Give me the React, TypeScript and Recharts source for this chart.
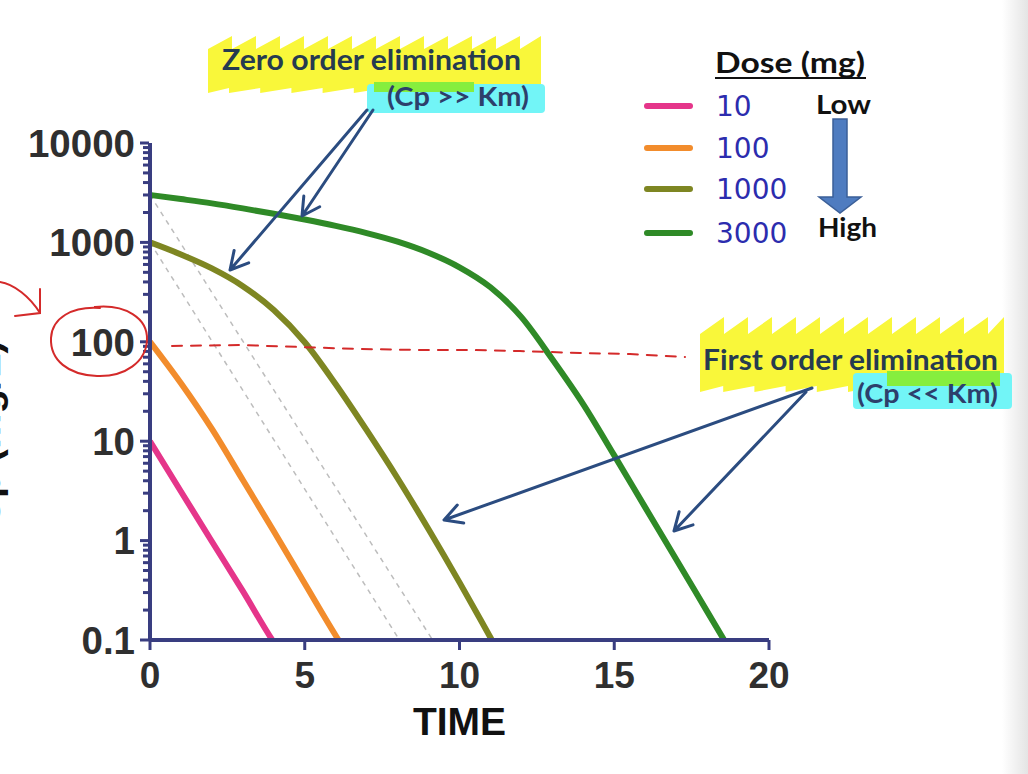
import React from 'react';
import { LineChart, Line, XAxis, YAxis, Legend, Label } from 'recharts';

// Dose (mg) series: time vs plasma concentration
const doses = ['10', '100', '1000', '3000'];
const doseColors = ['#e5358a', '#f28c2c', '#7e8622', '#2f8a27'];

const time10 = [0, 1, 2, 3, 4, 4.3];
const conc10 = [10, 3.12, 0.98, 0.31, 0.095, 0.07];

const time100 = [0, 1, 2, 3, 4, 5, 6, 6.5];
const conc100 = [100, 38.3, 13.3, 4.07, 1.24, 0.37, 0.111, 0.063];

const time1000 = [0, 1, 2, 3, 4, 5, 6, 7, 8, 9, 10, 11, 11.5];
const conc1000 = [1000, 755, 547, 363, 209, 99, 37.4, 12.9, 4.24, 1.3, 0.38, 0.106, 0.056];

const time3000 = [0, 1, 2, 3, 4, 5, 6, 7, 8, 9, 10, 11, 12, 13, 14, 15, 16, 17, 18, 19];
const conc3000 = [3000, 2729, 2470, 2199, 1940, 1698, 1467, 1241, 1017, 787, 562, 354, 177, 66.8, 23.5, 7.2, 2.16, 0.65, 0.194, 0.058];

// dashed first-order reference lines
const guideTimeLow = [0, 8.06];
const guideConcLow = [1000, 0.1];
const guideTimeHigh = [0, 9.13];
const guideConcHigh = [3000, 0.1];

const xTicks = [0, 5, 10, 15, 20];
const yDecades = [0.1, 1, 10, 100, 1000, 10000];

const AXIS = '#393d80';
const TICK_TEXT = '#2f2f2f';

const toPoints = (xs: number[], ys: number[]) => xs.map((x, i) => ({ x, y: ys[i] }));

const doseSeries = [
  toPoints(time10, conc10),
  toPoints(time100, conc100),
  toPoints(time1000, conc1000),
  toPoints(time3000, conc3000),
];

const yTicks: number[] = [];
yDecades.forEach((d, i) => {
  yTicks.push(d);
  if (i < yDecades.length - 1) {
    for (let m = 2; m <= 9; m++) yTicks.push(d * m);
  }
});

const isDecade = (v: number) => Math.abs(Math.log10(v) - Math.round(Math.log10(v))) < 1e-6;

function YTick(props: any) {
  const { x, y, payload } = props;
  const major = isDecade(payload.value);
  return (
    <g>
      <line x1={x - 1} x2={x - (major ? 10 : 7)} y1={y} y2={y} stroke={AXIS} strokeWidth={3} />
      {major && (
        <text
          x={x - 15}
          y={y}
          dy="0.36em"
          textAnchor="end"
          fontFamily="'Liberation Sans', Arial, sans-serif"
          fontWeight="bold"
          fontSize={38.5}
          fill={TICK_TEXT}
        >
          {payload.value}
        </text>
      )}
    </g>
  );
}

function XTick(props: any) {
  const { x, y, payload } = props;
  return (
    <g>
      <line x1={x} x2={x} y1={y} y2={y + 10} stroke={AXIS} strokeWidth={3} />
      <text
        x={x}
        y={y + 48}
        textAnchor="middle"
        fontFamily="'Liberation Sans', Arial, sans-serif"
        fontWeight="bold"
        fontSize={37}
        fill={TICK_TEXT}
      >
        {payload.value}
      </text>
    </g>
  );
}

function YTitle(props: any) {
  const vb = props.viewBox || { x: 0, y: 0, height: 0 };
  const cx = vb.x;
  const cy = vb.y + vb.height / 2 + 42;
  return (
    <text
      x={cx}
      y={cy}
      transform={`rotate(-90, ${cx}, ${cy})`}
      textAnchor="middle"
      fontFamily="'Liberation Sans', Arial, sans-serif"
      fontWeight="bold"
      fontSize={40}
      fill="#111"
    >
      Cp (mg/L)
    </text>
  );
}

function DoseLegend(props: any) {
  const items = (props.payload || []).filter((p: any) => p.type !== 'none');
  const calibri = "Lato, 'Open Sans', sans-serif";
  return (
    <svg width={260} height={210} style={{ display: 'block' }}>
      <text x={85} y={33} fontFamily={calibri} fontWeight="bold" fontSize={28} fill="#111" textLength={150} lengthAdjust="spacingAndGlyphs">
        Dose (mg)
      </text>
      <line x1={85} x2={236} y1={38} y2={38} stroke="#111" strokeWidth={2} />
      {items.map((it: any, i: number) => {
        const rowY = [66, 108, 149, 193][i] ?? 66 + i * 42;
        return (
          <g key={it.value}>
            <line x1={17} x2={60} y1={rowY} y2={rowY} stroke={it.color} strokeWidth={6} strokeLinecap="round" />
            <text x={86} y={rowY + 10} fontFamily="'DejaVu Sans', sans-serif" fontSize={28} fill="#2c2cae">
              {it.value}
            </text>
          </g>
        );
      })}
      <text x={186} y={74} fontFamily={calibri} fontWeight="bold" fontSize={26} fill="#111" textLength={55} lengthAdjust="spacingAndGlyphs">
        Low
      </text>
      <text x={188} y={197} fontFamily={calibri} fontWeight="bold" fontSize={26} fill="#111" textLength={59} lengthAdjust="spacingAndGlyphs">
        High
      </text>
      <path
        d="M203,79 L217,79 L217,157 L231,157 L210,173 L189,157 L203,157 Z"
        fill="#4f7cc0"
        stroke="#3b5f98"
        strokeWidth={1.5}
      />
    </svg>
  );
}

function brush(x0: number, x1: number, top: number, bottom: number, tooth: number, depth: number, bdepth: number) {
  let d = `M${x0},${bottom} L${x0},${top + depth}`;
  for (let x = x0; x < x1; x += tooth) {
    const xe = Math.min(x + tooth, x1);
    d += ` L${xe},${top} L${xe},${top + depth}`;
  }
  d += ` L${x1},${bottom - bdepth}`;
  for (let x = x1; x > x0; x -= tooth * 1.3) {
    const xe = Math.max(x - tooth * 1.3, x0);
    d += ` L${xe},${bottom} L${xe},${bottom - bdepth}`;
  }
  return d + ' Z';
}

function arrow(x1: number, y1: number, x2: number, y2: number) {
  const a = Math.atan2(y2 - y1, x2 - x1);
  const len = 20;
  const ang = 0.5;
  const p1 = [x2 - len * Math.cos(a - ang), y2 - len * Math.sin(a - ang)];
  const p2 = [x2 - len * Math.cos(a + ang), y2 - len * Math.sin(a + ang)];
  return `M${x1},${y1} L${x2},${y2} M${p1[0]},${p1[1]} L${x2},${y2} L${p2[0]},${p2[1]}`;
}

function Annotations() {
  const calibri = "Lato, 'Open Sans', sans-serif";
  const navy = '#2b4c80';
  const red = '#d42a2a';
  return (
    <svg width={1028} height={774} style={{ position: 'absolute', left: 0, top: 0, pointerEvents: 'none' }}>
      <defs>
        <linearGradient id="edge" x1="0" x2="1" y1="0" y2="0">
          <stop offset="0" stopColor="#ffffff" />
          <stop offset="1" stopColor="#e4e4e4" />
        </linearGradient>
      </defs>
      <rect x={1002} y={0} width={26} height={774} fill="url(#edge)" />

      {/* zero order label */}
      <path d={brush(208, 541, 36, 93, 24, 13, 5)} fill="#f9f73a" />
      <rect x={367} y={84} width={178} height={29} rx={4} fill="#72f5f7" />
      <rect x={374} y={82} width={100} height={10} fill="#86ee3e" />
      <text x={222} y={70} fontFamily={calibri} fontWeight="bold" fontSize={28} fill="#263b50" textLength={299} lengthAdjust="spacingAndGlyphs">
        Zero order elimination
      </text>
      <text x={387} y={106} fontFamily={calibri} fontWeight="bold" fontSize={26} fill="#2d3f6b" textLength={142} lengthAdjust="spacingAndGlyphs">
        (Cp &gt;&gt; Km)
      </text>

      {/* first order label */}
      <path d={brush(700, 1004, 317, 392, 24, 17, 6)} fill="#f9f73a" />
      <rect x={853} y={373} width={159} height={36} rx={4} fill="#72f5f7" />
      <rect x={887} y={371} width={113} height={15} fill="#86ee3e" />
      <text x={703} y={370} fontFamily={calibri} fontWeight="bold" fontSize={29} fill="#263b50" textLength={295} lengthAdjust="spacingAndGlyphs">
        First order elimination
      </text>
      <text x={857} y={403} fontFamily={calibri} fontWeight="bold" fontSize={26} fill="#2d3f6b" textLength={141} lengthAdjust="spacingAndGlyphs">
        (Cp &lt;&lt; Km)
      </text>

      {/* pointer arrows */}
      <g stroke={navy} strokeWidth={3} fill="none" strokeLinecap="round" strokeLinejoin="round">
        <path d={arrow(367, 110, 230, 270)} />
        <path d={arrow(373, 110, 302, 216)} />
        <path d={arrow(812, 388, 444, 520)} />
        <path d={arrow(806, 392, 674, 531)} />
      </g>

      {/* hand-drawn red marks */}
      <g stroke={red} strokeWidth={2} fill="none" strokeLinecap="round">
        <path d="M95,307 C125,304 148,318 147,340 C146,362 125,377 97,376 C68,375 50,360 51,338 C52,318 72,306 100,308" />
        <path d="M0,282 C14,284 30,297 40,313" />
        <path d="M15,316 L40,313 L40,289" />
        <polyline
          points="172,346 240,345 300,347 360,349 420,350 470,350 520,351 580,353 630,354 685,357"
          strokeDasharray="10 9"
        />
      </g>
    </svg>
  );
}

export default function App() {
  return (
    <div style={{ position: 'absolute', left: 0, top: 0, width: 1028, height: 774, background: '#fff', overflow: 'hidden' }}>
      <LineChart width={1028} height={774} margin={{ top: 143, right: 259, bottom: 34, left: 0 }}>
        <XAxis
          type="number"
          dataKey="x"
          domain={[0, 20]}
          ticks={xTicks}
          interval={0}
          allowDataOverflow
          height={100}
          tickSize={0}
          tickMargin={0}
          tickLine={false}
          tick={(p: any) => <XTick {...p} />}
          axisLine={{ stroke: AXIS, strokeWidth: 4 }}
        >
          <Label
            value="TIME"
            position="insideBottom"
            offset={5}
            style={{ fontFamily: "'Liberation Sans', Arial, sans-serif", fontWeight: 'bold', fontSize: 39, fill: '#111' }}
          />
        </XAxis>
        <YAxis
          type="number"
          dataKey="y"
          scale="log"
          domain={[0.1, 10000]}
          ticks={yTicks}
          interval={0}
          allowDataOverflow
          width={150}
          tickSize={0}
          tickMargin={0}
          tickLine={false}
          tick={(p: any) => <YTick {...p} />}
          axisLine={{ stroke: AXIS, strokeWidth: 4 }}
        >
          <Label content={(p: any) => <YTitle {...p} />} />
        </YAxis>
        <Legend
          layout="vertical"
          align="center"
          verticalAlign="middle"
          content={(p: any) => <DoseLegend {...p} />}
          wrapperStyle={{ left: 630, top: 40, width: 260, height: 210 }}
        />
        <Line
          data={toPoints(guideTimeLow, guideConcLow)}
          dataKey="y"
          type="linear"
          stroke="#bdbdbd"
          strokeWidth={1.5}
          strokeDasharray="5 5"
          dot={false}
          legendType="none"
          isAnimationActive={false}
        />
        <Line
          data={toPoints(guideTimeHigh, guideConcHigh)}
          dataKey="y"
          type="linear"
          stroke="#bdbdbd"
          strokeWidth={1.5}
          strokeDasharray="5 5"
          dot={false}
          legendType="none"
          isAnimationActive={false}
        />
        {doseSeries.map((pts, i) => (
          <Line
            key={doses[i]}
            data={pts}
            dataKey="y"
            name={doses[i]}
            type="monotone"
            stroke={doseColors[i]}
            strokeWidth={6}
            dot={false}
            isAnimationActive={false}
          />
        ))}
      </LineChart>
      <Annotations />
    </div>
  );
}
